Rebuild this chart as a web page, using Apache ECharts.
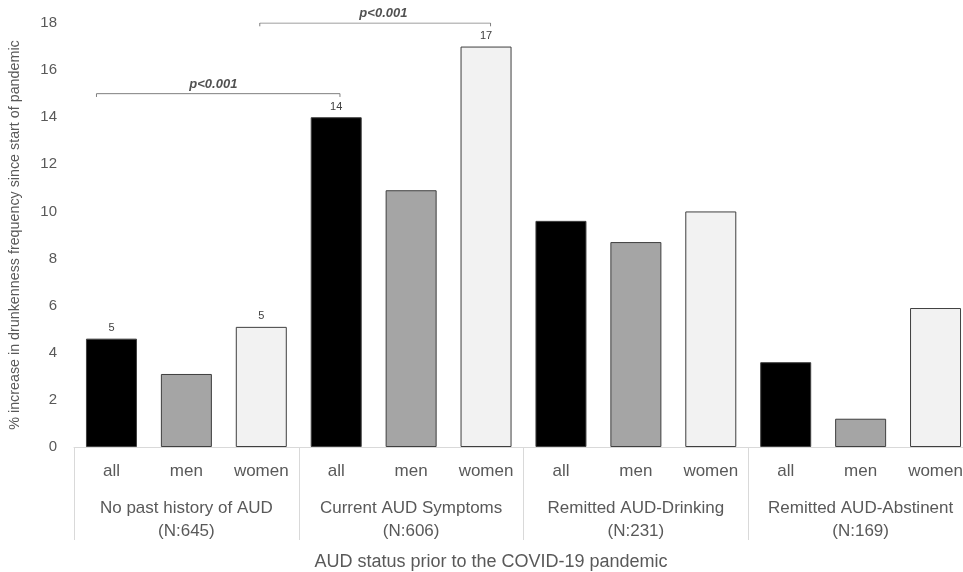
<!DOCTYPE html>
<html>
<head>
<meta charset="utf-8">
<script src="https://cdn.jsdelivr.net/npm/echarts@6/dist/echarts.min.js"></script>
<style>
  html, body { margin: 0; padding: 0; background: #fff; overflow: hidden; }
  #chart { width: 973px; height: 572px; }
</style>
</head>
<body>
<div id="chart"></div>
<script>
// ---- data ----
const groups = ['No past history of AUD\n(N:645)', 'Current AUD Symptoms\n(N:606)', 'Remitted AUD-Drinking\n(N:231)', 'Remitted AUD-Abstinent\n(N:169)'];
const subgroups = ['all', 'men', 'women'];
const allValues = [4.6, 14.0, 9.6, 3.6];
const menValues = [3.1, 10.9, 8.7, 1.2];
const womenValues = [5.1, 17.0, 10.0, 5.9];
// which bars carry a value label (1 = shown)
const allLabelShown = [1, 1, 0, 0];
const menLabelShown = [0, 0, 0, 0];
const womenLabelShown = [1, 1, 0, 0];
const yTicks = [0, 2, 4, 6, 8, 10, 12, 14, 16, 18];
// significance brackets: [from (slot units), to (slot units), height]
const bracketFrom = [0.30, 2.48];
const bracketTo = [3.55, 5.56];
const bracketHeight = [15, 18];
const bracketTextAt = [1.86, 4.13];
const bracketText = ['p<0.001', 'p<0.001'];

// ---- build ----
const subFill = ['#000000', '#a5a5a5', '#f2f2f2'];
const seriesValues = [allValues, menValues, womenValues];
const seriesLabels = [allLabelShown, menLabelShown, womenLabelShown];
const categories = [];
const barData = [];
groups.forEach((g, gi) => {
  subgroups.forEach((s, si) => {
    categories.push(s);
    const v = seriesValues[si][gi];
    barData.push({
      value: v,
      itemStyle: { color: subFill[si], borderColor: '#3f3f3f', borderWidth: 1 },
      label: { show: !!seriesLabels[si][gi] }
    });
  });
});

const bracketSeries = [];
bracketFrom.forEach((f, i) => {
  const t = bracketTo[i], h = bracketHeight[i];
  bracketSeries.push({
    type: 'line', xAxisIndex: 2, yAxisIndex: 0, silent: true,
    symbol: 'none', animation: false,
    lineStyle: { color: '#7f7f7f', width: 1 },
    data: [[f, h - 0.14], [f, h], [t, h], [t, h - 0.14]]
  });
  bracketSeries.push({
    type: 'scatter', xAxisIndex: 2, yAxisIndex: 0, silent: true,
    symbolSize: 0, animation: false,
    label: {
      show: true, position: 'top', distance: 3,
      formatter: bracketText[i],
      fontFamily: 'Liberation Sans, Arial, sans-serif',
      fontStyle: 'italic', fontWeight: 'bold', fontSize: 13, color: '#262626'
    },
    data: [[bracketTextAt[i], h]]
  });
});

const font = 'Liberation Sans, Arial, sans-serif';
const chart = echarts.init(document.getElementById('chart'), null, { renderer: 'canvas' });
chart.setOption({
  animation: false,
  grid: { left: 73, right: 0, top: 23, bottom: 125, containLabel: false },
  xAxis: [
    {
      type: 'category', data: categories, position: 'bottom',
      axisLine: { show: true, lineStyle: { color: '#d9d9d9', width: 1 } },
      axisTick: { show: false },
      axisLabel: { interval: 0, margin: 16, fontSize: 17, color: '#595959', fontFamily: font }
    },
    {
      type: 'category', data: groups, position: 'bottom',
      axisLine: { show: false },
      axisTick: { show: true, length: 93, interval: 0, lineStyle: { color: '#d9d9d9', width: 1 } },
      axisLabel: { interval: 0, margin: 50, fontSize: 17, lineHeight: 23, color: '#595959', fontFamily: font }
    },
    {
      type: 'value', min: 0, max: 12, show: false
    }
  ],
  yAxis: {
    type: 'value', min: yTicks[0], max: yTicks[yTicks.length - 1], interval: 2,
    splitLine: { show: false },
    axisLine: { show: false }, axisTick: { show: false },
    axisLabel: { margin: 17, fontSize: 15, color: '#595959', fontFamily: font },
    name: '% increase in drunkenness frequency since start of pandemic',
    nameLocation: 'middle', nameGap: 52, nameRotate: 90,
    nameTextStyle: { fontSize: 14.3, color: '#595959', fontFamily: font }
  },
  graphic: [{
    type: 'text', x: 491, y: 562,
    style: {
      text: 'AUD status prior to the COVID-19 pandemic',
      fontSize: 18, fill: '#595959', fontFamily: font,
      textAlign: 'center', textVerticalAlign: 'middle'
    }
  }],
  series: [
    {
      type: 'bar', xAxisIndex: 0, yAxisIndex: 0, barWidth: 51,
      data: barData,
      label: {
        position: 'top', distance: 5, fontSize: 11, color: '#404040', fontFamily: font,
        formatter: p => Math.round(p.value)
      }
    }
  ].concat(bracketSeries)
});
</script>
</body>
</html>
